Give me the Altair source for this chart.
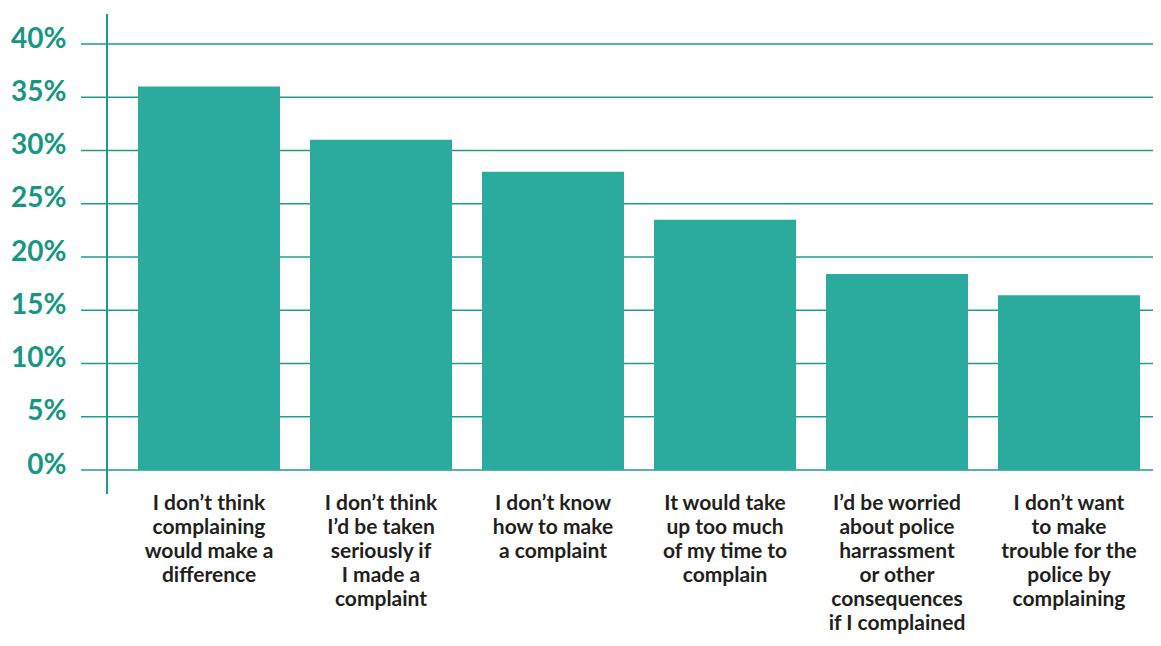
import altair as alt
import pandas as pd

categories = [
    "I don’t think|complaining|would make a|difference",
    "I don’t  think|I’d be taken|seriously if|I made a|complaint",
    "I don’t know|how to make|a complaint",
    "It would take|up too much|of my time to|complain",
    "I’d be worried|about police|harrassment|or other|consequences|if I complained",
    "I don’t want|to make|trouble for the|police by|complaining",
]
values = [36.0, 31.0, 28.0, 23.5, 18.4, 16.4]
ticks = [0, 5, 10, 15, 20, 25, 30, 35, 40]

BAR = "#2baa9e"
LINE = "#1f9d8b"
LABEL = "#17977f"
W, H = 1046, 426

df = pd.DataFrame({"cat": categories, "val": values})
grid_df = pd.DataFrame({"t": ticks})

yscale = alt.Scale(domain=[0, 40], nice=False, zero=True)
yaxis = alt.Axis(
    values=ticks,
    labelExpr="datum.value + '%'",
    labelFont="Lato",
    labelFontWeight="bold",
    labelFontSize=28,
    labelColor=LABEL,
    labelPadding=41,
    labelBaseline="alphabetic",
    labelOffset=3,
    domain=False,
    ticks=False,
    grid=False,
)

grid = alt.Chart(grid_df).mark_rule(color=LINE, strokeWidth=1.5).encode(
    y=alt.Y("t:Q", scale=yscale, axis=yaxis, title=None),
    x=alt.value(-26),
    x2=alt.value(W + 20),
)

vline = alt.Chart(grid_df).mark_rule(color=LINE, strokeWidth=1.5).encode(
    x=alt.value(0),
    y=alt.value(-30),
    y2=alt.value(H + 24),
)

bars = alt.Chart(df).mark_bar(color=BAR).encode(
    x=alt.X(
        "cat:N",
        sort=None,
        title=None,
        scale=alt.Scale(range=[31, 1033], paddingInner=0.1744, paddingOuter=0),
        axis=alt.Axis(
            labelExpr="split(datum.label, '|')",
            labelAngle=0,
            labelFont="Lato",
            labelFontWeight="bold",
            labelFontSize=21,
            labelColor="#231f20",
            labelLineHeight=24,
            labelBaseline="top",
            labelPadding=22,
            labelLimit=0,
            domain=False,
            ticks=False,
            labelOverlap=False,
        ),
    ),
    y=alt.Y("val:Q", scale=yscale, title=None, axis=yaxis),
)

chart = alt.layer(grid, vline, bars).properties(
    width=W,
    height=H,
    autosize=alt.AutoSizeParams(type="none"),
    padding={"left": 99, "top": 36, "right": 0, "bottom": 168},
).configure_view(stroke=None)

chart.save("out.html", embed_options={"renderer": "svg", "actions": False})
